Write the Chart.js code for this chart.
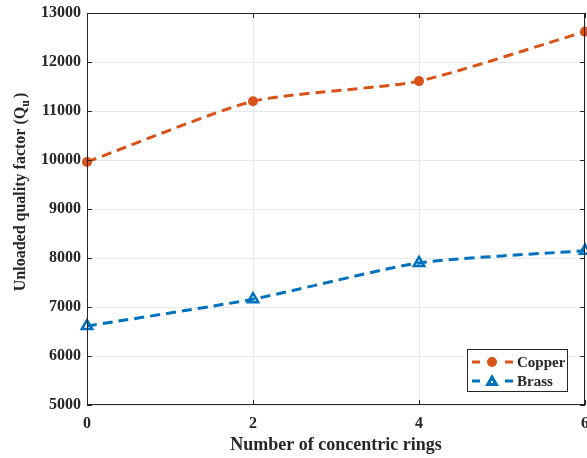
<!DOCTYPE html>
<html>
<head>
<meta charset="utf-8">
<script src="https://cdn.jsdelivr.net/npm/chart.js@4"></script>
<style>
  html, body { margin: 0; padding: 0; background: #fff; }
  #wrap { width: 587px; height: 458px; }
</style>
</head>
<body>
<div id="wrap"><canvas id="qChart" width="587" height="458"></canvas></div>
<script>
// number of concentric rings vs unloaded Q
var rings = [0, 2, 4, 6];
var copperQ = [9960, 11200, 11610, 12620];
var brassQ = [6610, 7160, 7900, 8150];
var yTicks = [5000, 6000, 7000, 8000, 9000, 10000, 11000, 12000, 13000];
var xTicks = [0, 2, 4, 6];

var SERIF = "'Liberation Serif', 'Times New Roman', serif";
var AXIS_COL = '#262626';

function toPoints(xs, ys) {
    return xs.map(function (x, i) { return { x: x, y: ys[i] }; });
}

// box around the plot, inward ticks, y label with subscript, legend
var matlabAxes = {
    id: 'matlabAxes',
    afterDraw: function (chart) {
        var c = chart.ctx, a = chart.chartArea;
        var xs = chart.scales.x, ys = chart.scales.y;
        c.save();
        c.strokeStyle = AXIS_COL;
        c.lineWidth = 1;
        c.strokeRect(Math.round(a.left) + 0.5, Math.round(a.top) + 0.5,
            Math.round(a.right - a.left) - 1, Math.round(a.bottom - a.top) - 1);
        var tl = 5;
        c.beginPath();
        xTicks.forEach(function (v) {
            var px = Math.round(xs.getPixelForValue(v)) + 0.5;
            c.moveTo(px, a.bottom); c.lineTo(px, a.bottom - tl);
            c.moveTo(px, a.top); c.lineTo(px, a.top + tl);
        });
        yTicks.forEach(function (v) {
            var py = Math.round(ys.getPixelForValue(v)) + 0.5;
            c.moveTo(a.left, py); c.lineTo(a.left + tl, py);
            c.moveTo(a.right, py); c.lineTo(a.right - tl, py);
        });
        c.stroke();

        // y axis title, Q with subscript u
        c.fillStyle = AXIS_COL;
        c.translate(21, (a.top + a.bottom) / 2 - 17);
        c.rotate(-Math.PI / 2);
        var main = 'Unloaded quality factor (Q';
        c.font = 'bold 16px ' + SERIF;
        var w1 = c.measureText(main).width;
        c.font = 'bold 12px ' + SERIF;
        var w2 = c.measureText('u').width;
        c.font = 'bold 16px ' + SERIF;
        var w3 = c.measureText(')').width;
        var x0 = -(w1 + w2 + 2 + w3) / 2;
        c.textBaseline = 'middle';
        c.textAlign = 'left';
        c.fillText(main, x0, 0);
        c.font = 'bold 12px ' + SERIF;
        c.fillText('u', x0 + w1, 5);
        c.font = 'bold 16px ' + SERIF;
        c.fillText(')', x0 + w1 + w2 + 2, 0);
        c.restore();

        // legend box in the lower right corner
        c.save();
        var bx = a.right - 118, by = a.bottom - 56, bw = 100, bh = 42;
        c.fillStyle = '#fff';
        c.fillRect(bx, by, bw, bh);
        c.strokeStyle = AXIS_COL;
        c.lineWidth = 1;
        c.strokeRect(Math.round(bx) + 0.5, Math.round(by) + 0.5, bw, bh);
        chart.data.datasets.forEach(function (ds, i) {
            var cy = by + 13 + i * 19;
            var mx = bx + 25;
            c.strokeStyle = ds.borderColor;
            c.lineWidth = 3;
            c.beginPath();
            c.moveTo(bx + 5, cy); c.lineTo(bx + 13, cy);
            c.moveTo(bx + 38, cy); c.lineTo(bx + 46, cy);
            c.stroke();
            if (ds.pointStyle === 'triangle') {
                c.fillStyle = ds.borderColor;
                c.beginPath();
                c.moveTo(mx, cy - 7); c.lineTo(mx + 7, cy + 5); c.lineTo(mx - 7, cy + 5);
                c.closePath();
                c.fill();
                c.fillStyle = '#fff';
                c.fillRect(mx - 1, cy, 2, 2);
            } else {
                c.fillStyle = ds.borderColor;
                c.beginPath();
                c.arc(mx, cy, 5, 0, Math.PI * 2);
                c.fill();
            }
            c.fillStyle = AXIS_COL;
            c.font = 'bold 15px ' + SERIF;
            c.textBaseline = 'middle';
            c.textAlign = 'left';
            c.fillText(ds.label, bx + 50, cy + 1);
        });
        c.restore();
    }
};

var ctx = document.getElementById('qChart').getContext('2d');
var qChart = new Chart(ctx, {
    type: 'line',
    data: {
        datasets: [{
            label: 'Copper',
            data: toPoints(rings, copperQ),
            borderColor: '#D95319',
            backgroundColor: '#D95319',
            borderWidth: 3,
            borderDash: [10, 6],
            pointStyle: 'circle',
            pointRadius: 5,
            pointBorderWidth: 0,
            tension: 0.2,
            clip: false
        }, {
            label: 'Brass',
            data: toPoints(rings, brassQ),
            borderColor: '#0072BD',
            backgroundColor: 'rgba(255,255,255,0)',
            borderWidth: 3,
            borderDash: [10, 6],
            pointStyle: 'triangle',
            pointRadius: 6,
            pointBorderWidth: 2.5,
            tension: 0.2,
            clip: false
        }]
    },
    options: {
        responsive: false,
        animation: false,
        layout: { autoPadding: false, padding: { left: 0, right: 2, top: 13, bottom: 0 } },
        plugins: {
            legend: { display: false },
            tooltip: { enabled: false }
        },
        scales: {
            x: {
                type: 'linear',
                min: 0, max: 6,
                afterFit: function (s) { s.height = 53; s.paddingLeft = 0; s.paddingRight = 0; },
                afterBuildTicks: function (s) { s.ticks = xTicks.map(function (v) { return { value: v }; }); },
                grid: { color: '#e8e8e8', drawTicks: false },
                border: { display: false },
                ticks: {
                    padding: 9,
                    color: AXIS_COL,
                    font: { family: SERIF, size: 16, weight: 'bold' }
                },
                title: {
                    display: true,
                    text: 'Number of concentric rings',
                    color: AXIS_COL,
                    padding: { top: 0, bottom: 2 },
                    font: { family: SERIF, size: 18, weight: 'bold' }
                }
            },
            y: {
                min: 5000, max: 13000,
                afterFit: function (s) { s.width = 87; s.paddingTop = 0; s.paddingBottom = 0; },
                afterBuildTicks: function (s) { s.ticks = yTicks.map(function (v) { return { value: v }; }); },
                grid: { color: '#e8e8e8', drawTicks: false },
                border: { display: false },
                ticks: {
                    padding: 6,
                    color: AXIS_COL,
                    font: { family: SERIF, size: 16, weight: 'bold' },
                    callback: function (v) { return String(v); }
                }
            }
        }
    },
    plugins: [matlabAxes]
});
</script>
</body>
</html>
